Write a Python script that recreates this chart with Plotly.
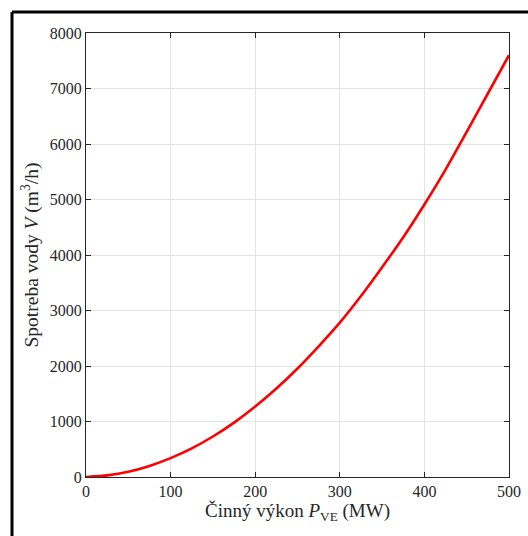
import plotly.graph_objects as go

# Active power P_VE (MW) and water consumption V (m^3/h)
power_mw = [0, 25, 50, 75, 100, 125, 150, 175, 200, 225, 250, 275, 300,
            325, 350, 375, 400, 425, 450, 475, 500]
water_m3h = [0, 30, 95, 200, 340, 515, 730, 980, 1270, 1595, 1955, 2355, 2780,
             3260, 3780, 4320, 4910, 5540, 6220, 6910, 7600]

x_ticks = [0, 100, 200, 300, 400, 500]
y_ticks = [0, 1000, 2000, 3000, 4000, 5000, 6000, 7000, 8000]

FONT = "Liberation Serif, Times New Roman, serif"
AXIS_COLOR = "#262626"
GRID_COLOR = "#e3e3e3"

fig = go.Figure()
fig.add_trace(go.Scatter(
    x=power_mw, y=water_m3h, mode="lines",
    line=dict(color="#ff0000", width=2.6, shape="spline", smoothing=0.6),
    showlegend=False, hoverinfo="x+y",
))

axis_common = dict(
    showline=True, linecolor=AXIS_COLOR, linewidth=1, mirror="ticks",
    ticks="inside", ticklen=5, tickwidth=1, tickcolor=AXIS_COLOR,
    showgrid=True, gridcolor=GRID_COLOR, gridwidth=1, zeroline=False,
    tickfont=dict(family=FONT, size=16, color="#262626"),
)

fig.update_xaxes(
    range=[0, 500], tickvals=x_ticks, ticktext=[str(v) for v in x_ticks],
    title=dict(text="Činný výkon <i>P</i><sub>VE</sub> (MW)",
               font=dict(family=FONT, size=19, color="#262626"), standoff=3),
    **axis_common,
)
fig.update_yaxes(
    range=[0, 8000], tickvals=y_ticks, ticktext=[str(v) for v in y_ticks],
    title=dict(text="Spotreba vody <i>V</i> (m<sup>3</sup>/h)",
               font=dict(family=FONT, size=19.5, color="#262626"), standoff=5),
    **axis_common,
)

W, H = 528, 536
L, R, T, B = 86, 19, 33, 59
pw, ph = W - L - R, H - T - B


def px_to_paper_x(px):
    return (px - L) / pw


def px_to_paper_y(py):
    return (H - B - py) / ph


# outer black frame (only left and top edges visible in the window)
fig.add_shape(type="line", xref="paper", yref="paper",
              x0=px_to_paper_x(12), x1=px_to_paper_x(560),
              y0=px_to_paper_y(12), y1=px_to_paper_y(12),
              line=dict(color="black", width=3))
fig.add_shape(type="line", xref="paper", yref="paper",
              x0=px_to_paper_x(12), x1=px_to_paper_x(12),
              y0=px_to_paper_y(12), y1=px_to_paper_y(580),
              line=dict(color="black", width=3))

fig.update_layout(
    width=W, height=H,
    margin=dict(l=L, r=R, t=T, b=B, autoexpand=False),
    paper_bgcolor="white", plot_bgcolor="white",
    font=dict(family=FONT, color="#262626"),
)

fig.write_html("out.html")
